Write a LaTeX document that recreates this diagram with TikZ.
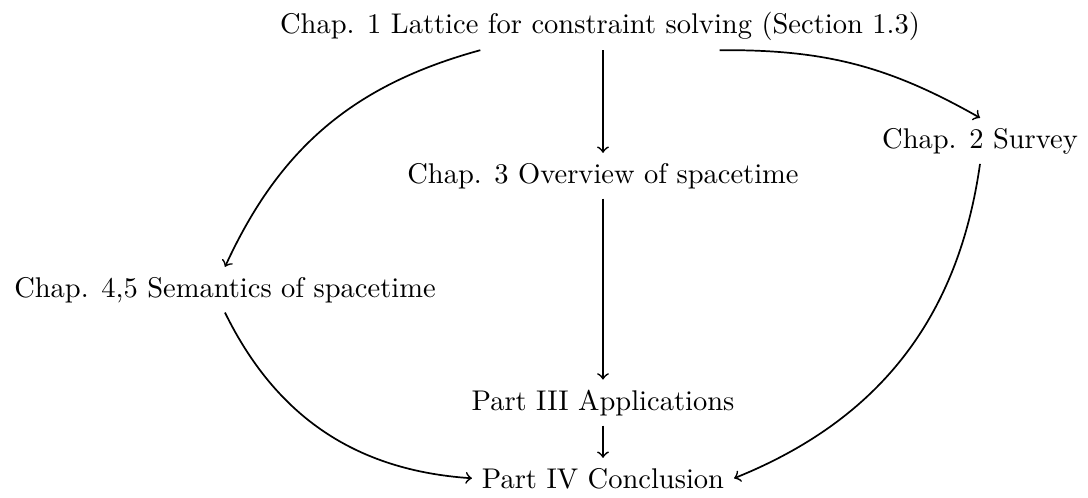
\documentclass[tikz,border=0pt]{standalone}
\begin{document}
\begin{tikzpicture}[x=0.3509pt,y=-0.3509pt,
  lbl/.style={anchor=base, inner sep=3.33pt},
  arr/.style={->, semithick}]
\useasboundingbox (0,0) rectangle (1088,497);
\node[lbl] (c1) at (600,33) {Chap. 1 Lattice for constraint solving (Section 1.3)};
\node[lbl] (c3) at (603,183) {Chap. 3 Overview of spacetime};
\node[lbl] (c2) at (980,148) {Chap. 2 Survey};
\node[lbl] (c45) at (225,297) {Chap. 4,5 Semantics of spacetime};
\node[lbl] (p3) at (603,410) {Part III Applications};
\node[lbl] (p4) at (603,488) {Part IV Conclusion};
\draw[arr] (c1.south -| c3.north) -- (c3.north);
\draw[arr] ([xshift=-42pt]c1.south) to[bend right=25] (c45.north);
\draw[arr] ([xshift=42pt]c1.south) to[bend left=15] (c2.north);
\draw[arr] (c3.south) -- (p3.north);
\draw[arr] (p3.south) -- (p4.north);
\draw[arr] (c45.south) to[bend right=30] (p4.west);
\draw[arr] (c2.south) to[bend left=30] (p4.east);
\end{tikzpicture}
\end{document}
